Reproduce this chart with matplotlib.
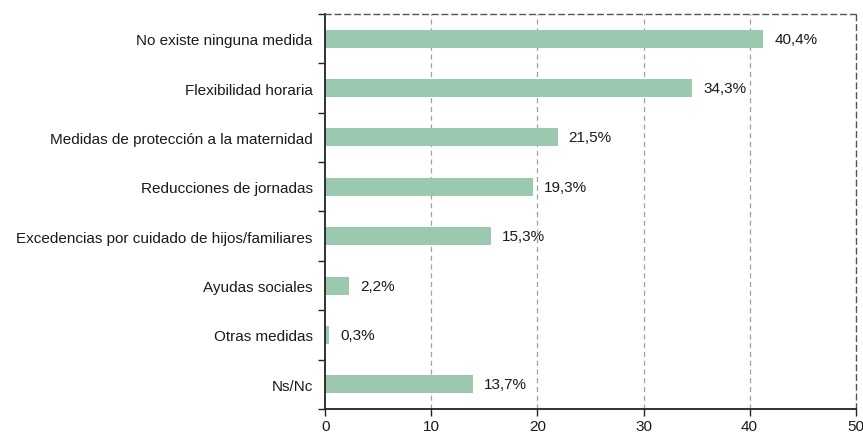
import matplotlib
matplotlib.use("Agg")
import matplotlib.pyplot as plt
import numpy as np

categories = [
    "No existe ninguna medida",
    "Flexibilidad horaria",
    "Medidas de protección a la maternidad",
    "Reducciones de jornadas",
    "Excedencias por cuidado de hijos/familiares",
    "Ayudas sociales",
    "Otras medidas",
    "Ns/Nc",
]
# percentages printed next to the bars
shown_pct = [40.4, 34.3, 21.5, 19.3, 15.3, 2.2, 0.3, 13.7]
# bar lengths as drawn in the picture (slightly longer than the printed numbers)
bar_length = [41.3, 34.6, 21.9, 19.6, 15.6, 2.2, 0.33, 13.9]
xticks = [0, 10, 20, 30, 40, 50]

plt.rcParams["font.family"] = ["Liberation Sans", "DejaVu Sans"]
text_color = "#1a1a1a"

fig = plt.figure(figsize=(8.63, 4.35), dpi=100)
ax = fig.add_axes([0.377, 0.0575, 0.6145, 0.908])

y = np.arange(len(categories))
ax.barh(y, bar_length, height=0.365, color="#9bc9af", zorder=2)

for yi, length, pct in zip(y, bar_length, shown_pct):
    label = f"{pct:.1f}%".replace(".", ",")
    ax.annotate(label, (length, yi), xytext=(8, 0), textcoords="offset points",
                va="center", ha="left", fontsize=11, color=text_color)

ax.set_xlim(0, 50)
ax.set_ylim(len(categories) - 0.5, -0.5)
ax.set_xticks(xticks)
ax.set_xticklabels([str(t) for t in xticks], fontsize=11, color=text_color)
ax.set_yticks(y)
ax.set_yticklabels(categories, fontsize=11, color=text_color)
ax.tick_params(axis="y", which="major", length=0, pad=9)
ax.set_yticks(np.arange(-0.5, len(categories)), minor=True)
ax.tick_params(axis="y", which="minor", length=5, width=1, color="#222222")
ax.tick_params(axis="x", length=5, width=1, color="#222222", pad=2)

for t in xticks[1:-1]:
    ax.axvline(t, color="#a0a0a0", lw=0.9, ls=(0, (4, 3)), zorder=1)

for side in ["top", "right"]:
    ax.spines[side].set_linestyle((0, (4, 3)))
    ax.spines[side].set_color("#555555")
    ax.spines[side].set_linewidth(1.0)
for side in ["left", "bottom"]:
    ax.spines[side].set_color("#222222")
    ax.spines[side].set_linewidth(1.3)

fig.savefig("out.png", dpi=100)
